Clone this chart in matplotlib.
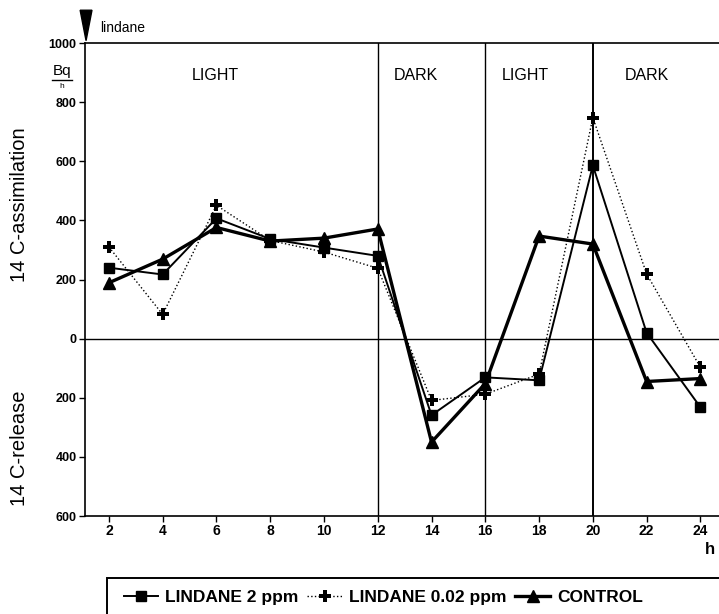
import numpy as np
import matplotlib
matplotlib.use('Agg')
import matplotlib.pyplot as plt
from matplotlib.patches import Polygon, Rectangle
from matplotlib.lines import Line2D

plt.rcParams['font.family'] = ['Liberation Sans', 'DejaVu Sans']

# dados (release como valores negativos)
horas = [2, 4, 6, 8, 10, 12, 14, 16, 18, 20, 22, 24]
lindane_2 = [240, 217, 407, 337, 308, 280, -259, -131, -141, 586, 20, -232]
lindane_002 = [310, 82, 451, 332, 293, 238, -209, -188, -120, 748, 219, -97]
controle = [189, 269, 376, 330, 340, 371, -350, -152, 347, 320, -145, -135]

yticks = [-600, -400, -200, 0, 200, 400, 600, 800, 1000]
ytick_labels = [str(abs(v)) for v in yticks]
xticks = list(range(2, 25, 2))
fases = [(5.95, 'LIGHT'), (13.4, 'DARK'), (17.5, 'LIGHT'), (22.0, 'DARK')]
trocas = [12, 16, 20]

#criar figura
fig = plt.figure(figsize=(7.19, 6.14), dpi=100)
ax = fig.add_axes([0.1182, 0.1596, 0.912, 0.7703])
ax.set_xlim(1.11, 25.5)
ax.set_ylim(-600, 1000)

# linhas de separacao claro/escuro
for t in trocas:
    ax.axvline(t, color='black', linewidth=1.4 if t == 20 else 1.0, zorder=1)
ax.axhline(0, color='black', linewidth=1.0, zorder=1)

ax.plot(horas, lindane_2, color='black', linewidth=1.4, linestyle='-',
        marker='s', markersize=7, label='LINDANE 2 ppm', zorder=3)
ax.plot(horas, lindane_002, color='black', linewidth=1.0, linestyle=':',
        marker='P', markersize=8, markeredgewidth=0, label='LINDANE 0.02 ppm', zorder=3)
ax.plot(horas, controle, color='black', linewidth=2.4, linestyle='-',
        marker='^', markersize=9, label='CONTROL', zorder=3)

for x, txt in fases:
    ax.text(x, 890, txt, ha='center', va='center', fontsize=11.5)

ax.set_xticks(xticks)
ax.set_xticklabels([str(x) for x in xticks], fontsize=10, fontweight='bold')
ax.set_yticks(yticks)
ax.set_yticklabels(ytick_labels, fontsize=9, fontweight='bold')
ax.tick_params(direction='out', length=4, width=1, pad=2)
for s in ['left', 'bottom', 'top']:
    ax.spines[s].set_linewidth(1.2)

# seta do lindane
seta = Polygon([[0.93, 1111], [1.37, 1111], [1.15, 1008]], closed=True,
               color='black', clip_on=False, transform=ax.transData)
ax.add_patch(seta)
fig.text(100 / 719, 1 - 28 / 614, 'lindane', fontsize=10, va='center')

# unidade Bq/h
fig.text(62 / 719, 1 - 71 / 614, 'Bq', fontsize=11, ha='center', va='center')
fig.add_artist(Line2D([52 / 719, 72 / 719], [1 - 80 / 614, 1 - 80 / 614],
                      color='black', linewidth=1, transform=fig.transFigure))
fig.text(62 / 719, 1 - 86 / 614, 'h', fontsize=6, ha='center', va='center')

# nomes nos eixos
fig.text(20 / 719, 1 - 205 / 614, '14 C-assimilation', rotation=90,
         fontsize=14.5, ha='center', va='center')
fig.text(20 / 719, 1 - 448 / 614, '14 C-release', rotation=90,
         fontsize=14.5, ha='center', va='center')
fig.text(705 / 719, 1 - 550 / 614, 'h', fontsize=12, fontweight='bold',
         ha='left', va='center')

#legenda
fig.add_artist(Rectangle((107 / 719, -0.05), 0.9, (1 - 578 / 614) + 0.05,
                         transform=fig.transFigure, fill=False,
                         edgecolor='black', linewidth=1.4))
leg = fig.legend(loc='center left', bbox_to_anchor=(108 / 719, 1 - 597 / 614),
                 ncol=3, frameon=False, fontsize=12.5, handlelength=2.0,
                 columnspacing=0.5, handletextpad=0.4)
for t in leg.get_texts():
    t.set_fontweight('bold')

fig.savefig('out.png', dpi=100)
